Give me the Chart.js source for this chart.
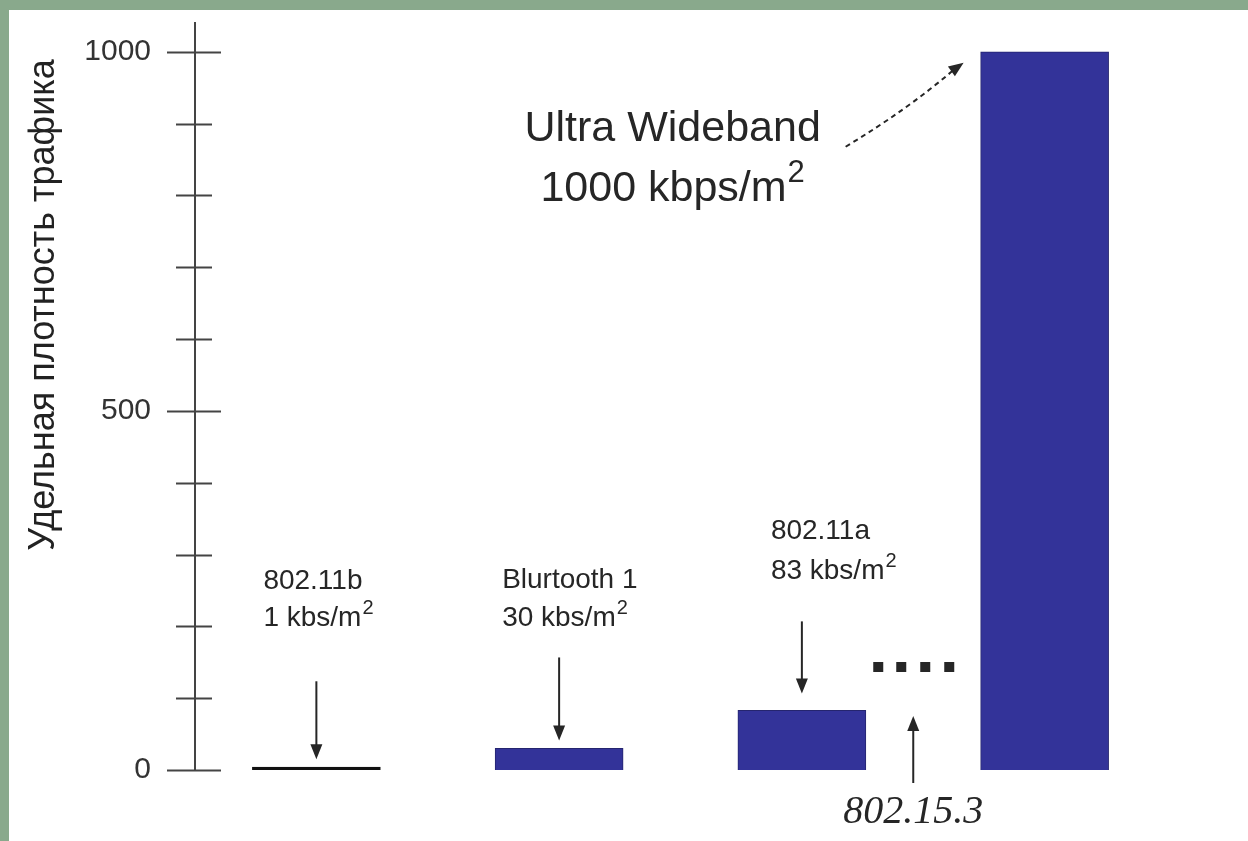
<!DOCTYPE html>
<html>
<head>
<meta charset="utf-8">
<script src="https://cdn.jsdelivr.net/npm/chart.js@4"></script>
<style>
  body { margin: 0; background: #89a98c; width: 1248px; height: 841px; overflow: hidden; }
  #panel { position: absolute; left: 9px; top: 10px; width: 1239px; height: 831px; background: #fff; }
</style>
</head>
<body>
<div id="panel"><canvas id="chart" width="1239" height="831"></canvas></div>
<script>
// data
const categories = ["802.11b", "Blurtooth 1", "802.11a", "Ultra Wideband"];
const rates = [1, 30, 83, 1000];
const rateUnits = ["1 kbs/m", "30 kbs/m", "83 kbs/m", "1000 kbps/m"];
const unitPower = "2";
const pendingStandard = "802.15.3";
const labelledTicks = [0, 500, 1000];
const tickStep = 100;
const yTitle = "Удельная плотность трафика";

const INK = "#262626";
const BAR = "#333399";

// offsets of the small callouts relative to the bar top
const callouts = [
  { dx: -53, l1: -188, l2: -151, a0: -88, a1: -10 },
  { dx: -57, l1: -168, l2: -130, a0: -91, a1: -8 },
  { dx: -31, l1: -179, l2: -139, a0: -89, a1: -17 }
];

function withPower(ctx, base, x, y, size, align) {
  ctx.font = `${size}px "Liberation Sans", Arial, sans-serif`;
  const wb = ctx.measureText(base).width;
  ctx.font = `${Math.round(size * 0.72)}px "Liberation Sans", Arial, sans-serif`;
  const wp = ctx.measureText(unitPower).width;
  const x0 = align === "center" ? x - (wb + wp + 1) / 2 : x;
  ctx.textAlign = "left";
  ctx.textBaseline = "middle";
  ctx.font = `${size}px "Liberation Sans", Arial, sans-serif`;
  ctx.fillText(base, x0, y);
  ctx.font = `${Math.round(size * 0.72)}px "Liberation Sans", Arial, sans-serif`;
  ctx.fillText(unitPower, x0 + wb + 1, y - size * 0.36);
}

function arrowHead(ctx, x, y, ang, len, half) {
  ctx.save();
  ctx.translate(x, y);
  ctx.rotate(ang);
  ctx.beginPath();
  ctx.moveTo(0, 0);
  ctx.lineTo(-len, -half);
  ctx.lineTo(-len, half);
  ctx.closePath();
  ctx.fill();
  ctx.restore();
}

const decor = {
  id: "decor",
  afterDraw(chart) {
    const ctx = chart.ctx;
    const y = chart.scales.y;
    const bars = chart.getDatasetMeta(0).data;
    const ax = y.right;

    ctx.save();
    ctx.strokeStyle = "#444";
    ctx.fillStyle = INK;
    ctx.lineWidth = 2;

    // crossing tick marks
    y.ticks.forEach(t => {
      const py = Math.round(y.getPixelForValue(t.value)) + 0.5;
      const major = labelledTicks.includes(t.value);
      ctx.beginPath();
      ctx.moveTo(ax - (major ? 28 : 19), py);
      ctx.lineTo(ax + (major ? 26 : 17), py);
      ctx.stroke();
    });

    // axis title
    ctx.save();
    ctx.translate(35, 295);
    ctx.rotate(-Math.PI / 2);
    ctx.font = '36px "Liberation Sans", Arial, sans-serif';
    ctx.textAlign = "center";
    ctx.textBaseline = "middle";
    ctx.fillStyle = "#222";
    ctx.fillText(yTitle, 0, 0);
    ctx.restore();

    // small callouts with arrows
    ctx.strokeStyle = INK;
    callouts.forEach((c, i) => {
      const bx = bars[i].x;
      const top = y.getPixelForValue(rates[i]);
      ctx.font = '28px "Liberation Sans", Arial, sans-serif';
      ctx.textAlign = "left";
      ctx.textBaseline = "middle";
      ctx.fillText(categories[i], bx + c.dx, top + c.l1);
      withPower(ctx, rateUnits[i], bx + c.dx, top + c.l2, 28, "left");
      ctx.beginPath();
      ctx.moveTo(bx, top + c.a0);
      ctx.lineTo(bx, top + c.a1 - 12);
      ctx.stroke();
      arrowHead(ctx, bx, top + c.a1, Math.PI / 2, 15, 6);
    });

    // ultra wideband callout
    const ub = bars[3];
    const uLeft = ub.x - ub.width / 2;
    const uTop = y.getPixelForValue(rates[3]);
    const tx = uLeft - 308;
    ctx.font = '43px "Liberation Sans", Arial, sans-serif';
    ctx.textAlign = "center";
    ctx.textBaseline = "middle";
    ctx.fillText(categories[3], tx, uTop + 77);
    withPower(ctx, rateUnits[3], tx, uTop + 137, 43, "center");

    const sx = uLeft - 135, sy = uTop + 95;
    const ex = uLeft - 17, ey = uTop + 11;
    const ang = Math.atan2(ey - sy, ex - sx);
    ctx.setLineDash([5, 4]);
    ctx.beginPath();
    ctx.moveTo(sx, sy);
    ctx.quadraticCurveTo((sx + ex) / 2 + 4, (sy + ey) / 2 + 4, ex - 12 * Math.cos(ang), ey - 12 * Math.sin(ang));
    ctx.stroke();
    ctx.setLineDash([]);
    arrowHead(ctx, ex, ey, ang, 15, 6);

    // pending standard, no value yet
    const mx = (bars[2].x + bars[3].x) / 2 - 10;
    const p0 = y.getPixelForValue(0);
    [-35, -12, 12, 36].forEach(d => ctx.fillRect(mx + d - 5, p0 - 108, 10, 10));
    ctx.beginPath();
    ctx.moveTo(mx, p0 + 13);
    ctx.lineTo(mx, p0 - 42);
    ctx.stroke();
    arrowHead(ctx, mx, p0 - 54, -Math.PI / 2, 15, 6);
    ctx.font = 'italic 40px "Liberation Serif", serif';
    ctx.textAlign = "center";
    ctx.textBaseline = "middle";
    ctx.fillText(pendingStandard, mx, p0 + 42);

    ctx.restore();
  }
};

new Chart(document.getElementById("chart").getContext("2d"), {
  type: "bar",
  data: {
    labels: categories,
    datasets: [{
      data: rates,
      backgroundColor: c => c.dataIndex === 0 ? "#111" : BAR,
      borderColor: c => c.dataIndex === 0 ? "#111" : "#25256f",
      borderWidth: 1,
      barThickness: 128,
      minBarLength: 3
    }]
  },
  options: {
    responsive: false,
    animation: false,
    layout: { padding: { top: 13, bottom: 71, left: 0, right: 82 } },
    plugins: { legend: { display: false }, tooltip: { enabled: false } },
    scales: {
      x: { display: false },
      y: {
        min: 0,
        max: 1040,
        afterBuildTicks: s => {
          const ticks = [];
          for (let v = 0; v <= 1000; v += tickStep) ticks.push({ value: v });
          s.ticks = ticks;
        },
        afterFit: s => {
          s.width = 186;
          s.paddingTop = 0;
          s.paddingBottom = 0;
        },
        grid: { display: false, drawTicks: true, tickLength: 44 },
        border: { display: true, color: "#444", width: 2 },
        ticks: {
          autoSkip: false,
          padding: 0,
          color: "#333",
          font: { family: "Liberation Sans", size: 30 },
          callback: v => labelledTicks.includes(v) ? String(v) : ""
        }
      }
    }
  },
  plugins: [decor]
});
</script>
</body>
</html>
